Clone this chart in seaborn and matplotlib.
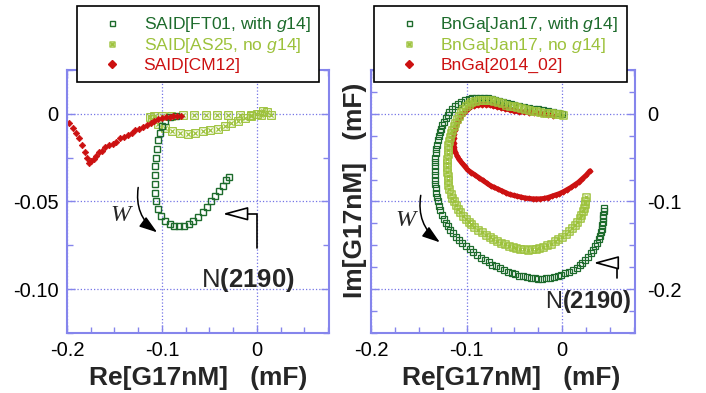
import numpy as np
import pandas as pd
import matplotlib
matplotlib.use("Agg")
import matplotlib.pyplot as plt
from matplotlib.path import Path
from matplotlib.lines import Line2D
from matplotlib.ticker import FixedLocator, MultipleLocator
import seaborn as sns

# ---------------- data ----------------
# Left panel: SAID
ft01_x = [-0.085, -0.092, -0.097, -0.100, -0.102, -0.104, -0.105, -0.106, -0.107, -0.107,
          -0.107, -0.107, -0.106, -0.104, -0.101, -0.097, -0.092, -0.087, -0.082, -0.077,
          -0.072, -0.067, -0.062, -0.057, -0.052, -0.048, -0.044, -0.040, -0.036, -0.032, -0.029]
ft01_y = [-0.001, -0.002, -0.004, -0.007, -0.011, -0.015, -0.020, -0.025, -0.030, -0.035,
          -0.040, -0.045, -0.050, -0.054, -0.058, -0.061, -0.063, -0.064, -0.064, -0.064,
          -0.063, -0.061, -0.059, -0.056, -0.053, -0.050, -0.047, -0.044, -0.041, -0.038, -0.036]

as25_x = [-0.110, -0.104, -0.097, -0.089, -0.081, -0.073, -0.065, -0.057, -0.049, -0.041,
          -0.034, -0.027, -0.020, -0.013, -0.006, 0.000, 0.006, 0.011, 0.015,
          0.004, -0.006, -0.018, -0.030, -0.042, -0.054, -0.066, -0.078, -0.090, -0.100, -0.108, -0.113]
as25_y = [-0.003, -0.006, -0.008, -0.010, -0.011, -0.0115, -0.011, -0.010, -0.0095, -0.0085,
          -0.007, -0.0055, -0.004, -0.0025, -0.001, 0.000, 0.0018, 0.0012, -0.0005,
          -0.0004, -0.0005, -0.0006, -0.0006, -0.0006, -0.0007, -0.0008, -0.0009, -0.001, -0.0012, -0.0015, -0.002]

cm12_x = [-0.198, -0.194, -0.190, -0.187, -0.184, -0.181, -0.179, -0.177, -0.175, -0.172,
          -0.169, -0.166, -0.163, -0.160, -0.156, -0.152, -0.148, -0.144, -0.140, -0.136,
          -0.132, -0.128, -0.124, -0.120, -0.116, -0.112, -0.108, -0.104, -0.100, -0.096,
          -0.092, -0.088, -0.084, -0.080]
cm12_y = [-0.0055, -0.008, -0.011, -0.014, -0.018, -0.022, -0.025, -0.028, -0.027, -0.026,
          -0.024, -0.022, -0.021, -0.019, -0.018, -0.017, -0.016, -0.014, -0.013, -0.012,
          -0.011, -0.0095, -0.0085, -0.0075, -0.0062, -0.005, -0.004, -0.003, -0.0025, -0.002,
          -0.0018, -0.0015, -0.0012, -0.001]

# Right panel: BnGa
jan_g14_x = [0.000, -0.005, -0.010, -0.015, -0.020, -0.025, -0.030, -0.035, -0.040, -0.045,
             -0.050, -0.054, -0.058, -0.062, -0.066, -0.070, -0.074, -0.078, -0.082, -0.086,
             -0.090, -0.094, -0.098, -0.102, -0.106, -0.109, -0.112, -0.115, -0.118, -0.120,
             -0.122, -0.124, -0.1255, -0.127, -0.128, -0.129, -0.130, -0.131, -0.132, -0.1325,
             -0.133, -0.133, -0.1333, -0.1333, -0.1333, -0.133, -0.133, -0.1325, -0.132, -0.131,
             -0.130, -0.129, -0.1275, -0.126, -0.124, -0.122, -0.1195, -0.117, -0.114, -0.111,
             -0.108, -0.105, -0.101, -0.097, -0.093, -0.089, -0.085, -0.081, -0.077, -0.073,
             -0.069, -0.065, -0.061, -0.057, -0.053, -0.049, -0.045, -0.041, -0.037, -0.033,
             -0.029, -0.025, -0.021, -0.017, -0.013, -0.009, -0.005, -0.001, 0.003, 0.007,
             0.011, 0.015, 0.018, 0.021, 0.024, 0.027, 0.030, 0.032, 0.034, 0.036,
             0.038, 0.0395, 0.0405, 0.0415, 0.042, 0.0425, 0.043, 0.043, 0.0433, 0.0435]
jan_g14_y = [0.000, 0.001, 0.002, 0.003, 0.004, 0.005, 0.006, 0.007, 0.008, 0.009,
             0.010, 0.011, 0.012, 0.0135, 0.015, 0.016, 0.017, 0.0178, 0.0183, 0.0185,
             0.0183, 0.018, 0.017, 0.0155, 0.0135, 0.011, 0.0085, 0.0055, 0.002, -0.001,
             -0.005, -0.009, -0.013, -0.017, -0.021, -0.025, -0.030, -0.035, -0.040, -0.045,
             -0.050, -0.055, -0.060, -0.065, -0.070, -0.075, -0.080, -0.085, -0.090, -0.095,
             -0.100, -0.105, -0.110, -0.115, -0.120, -0.124, -0.128, -0.132, -0.136, -0.140,
             -0.1435, -0.147, -0.151, -0.154, -0.158, -0.161, -0.164, -0.167, -0.1695, -0.172,
             -0.174, -0.176, -0.178, -0.180, -0.1815, -0.183, -0.1845, -0.1855, -0.1865, -0.1872,
             -0.1878, -0.188, -0.188, -0.1875, -0.187, -0.186, -0.185, -0.1835, -0.182, -0.180,
             -0.178, -0.1755, -0.173, -0.170, -0.1665, -0.163, -0.159, -0.155, -0.151, -0.147,
             -0.143, -0.139, -0.135, -0.131, -0.127, -0.123, -0.119, -0.115, -0.111, -0.107]

jan_no_x = [0.001, -0.003, -0.007, -0.011, -0.015, -0.019, -0.023, -0.027, -0.031, -0.035,
            -0.039, -0.043, -0.047, -0.051, -0.055, -0.059, -0.063, -0.067, -0.071, -0.075,
            -0.079, -0.083, -0.087, -0.091, -0.095, -0.098, -0.101, -0.104, -0.106, -0.108,
            -0.110, -0.112, -0.1135, -0.115, -0.116, -0.117, -0.118, -0.119, -0.1195, -0.120,
            -0.1205, -0.1205, -0.1205, -0.1205, -0.120, -0.1195, -0.119, -0.118, -0.1165, -0.115,
            -0.113, -0.111, -0.109, -0.1065, -0.104, -0.101, -0.098, -0.095, -0.092, -0.088,
            -0.084, -0.080, -0.076, -0.072, -0.068, -0.064, -0.060, -0.056, -0.052, -0.048,
            -0.044, -0.040, -0.036, -0.032, -0.028, -0.024, -0.020, -0.016, -0.012, -0.008,
            -0.004, 0.000, 0.004, 0.007, 0.010, 0.013, 0.0155, 0.018, 0.020, 0.0215,
            0.0225, 0.0235, 0.024, 0.0245]
jan_no_y = [-0.001, -0.0005, 0.000, 0.0005, 0.001, 0.0015, 0.002, 0.0028, 0.0037, 0.0045,
            0.0055, 0.0065, 0.0075, 0.0085, 0.0095, 0.0105, 0.012, 0.0133, 0.0145, 0.0153,
            0.016, 0.0162, 0.016, 0.015, 0.0133, 0.011, 0.0085, 0.0055, 0.002, -0.002,
            -0.006, -0.010, -0.014, -0.018, -0.022, -0.026, -0.031, -0.036, -0.041, -0.046,
            -0.051, -0.056, -0.061, -0.066, -0.071, -0.076, -0.081, -0.086, -0.091, -0.096,
            -0.100, -0.104, -0.108, -0.112, -0.116, -0.1195, -0.123, -0.126, -0.129, -0.132,
            -0.135, -0.138, -0.1405, -0.143, -0.145, -0.147, -0.149, -0.1505, -0.152, -0.153,
            -0.154, -0.1545, -0.1548, -0.1545, -0.154, -0.153, -0.1515, -0.150, -0.148, -0.1455,
            -0.143, -0.140, -0.137, -0.134, -0.1305, -0.127, -0.123, -0.119, -0.115, -0.111,
            -0.107, -0.103, -0.099, -0.095]

b2014_x = [-0.010, -0.015, -0.020, -0.025, -0.030, -0.035, -0.040, -0.045, -0.050, -0.055,
           -0.060, -0.064, -0.068, -0.072, -0.076, -0.080, -0.084, -0.088, -0.092, -0.096,
           -0.099, -0.102, -0.105, -0.107, -0.109, -0.111, -0.112, -0.113, -0.1135, -0.1135,
           -0.113, -0.112, -0.110, -0.108, -0.105, -0.102, -0.099, -0.095, -0.091, -0.087,
           -0.083, -0.079, -0.075, -0.071, -0.067, -0.063, -0.059, -0.055, -0.051, -0.047,
           -0.043, -0.039, -0.035, -0.031, -0.027, -0.023, -0.019, -0.015, -0.011, -0.007,
           -0.003, 0.001, 0.005, 0.009, 0.013, 0.017, 0.021, 0.025, 0.029]
b2014_y = [-0.002, -0.001, 0.000, 0.0005, 0.001, 0.0015, 0.002, 0.0025, 0.003, 0.0045,
           0.006, 0.007, 0.008, 0.009, 0.010, 0.0105, 0.0105, 0.010, 0.009, 0.0075,
           0.005, 0.0025, -0.001, -0.005, -0.009, -0.013, -0.018, -0.023, -0.028, -0.033,
           -0.038, -0.043, -0.048, -0.052, -0.056, -0.060, -0.064, -0.067, -0.070, -0.073,
           -0.076, -0.079, -0.082, -0.084, -0.086, -0.088, -0.090, -0.092, -0.093, -0.094,
           -0.095, -0.096, -0.0965, -0.097, -0.097, -0.097, -0.0965, -0.0955, -0.094, -0.0925,
           -0.091, -0.089, -0.0865, -0.084, -0.081, -0.078, -0.074, -0.070, -0.065]

left_labels = ["SAID[FT01, with $\\mathit{g14}$]", "SAID[AS25, no $\\mathit{g14}$]", "SAID[CM12]"]
right_labels = ["BnGa[Jan17, with $\\mathit{g14}$]", "BnGa[Jan17, no $\\mathit{g14}$]", "BnGa[2014_02]"]

xticks = [-0.2, -0.1, 0.0]
xticklabels = ["-0.2", "-0.1", "0"]
left_yticks = [-0.10, -0.05, 0.0]
left_yticklabels = ["-0.10", "-0.05", "0"]
right_yticks = [-0.2, -0.1, 0.0]
right_yticklabels = ["-0.2", "-0.1", "0"]

# ---------------- style ----------------
DARK = "#1d6b2c"
LIGHT = "#9dc23c"
RED = "#cc1111"
SPINE = "#8585ec"
GRID = "#7474e6"

sns.set_theme(style="white")
plt.rcParams["font.family"] = ["Liberation Sans", "DejaVu Sans"]
plt.rcParams["mathtext.fontset"] = "custom"
plt.rcParams["mathtext.rm"] = "Liberation Sans"
plt.rcParams["mathtext.it"] = "Liberation Sans:italic"
plt.rcParams["mathtext.bf"] = "Liberation Sans:bold"

# square with an x inside
boxx = Path([(-1, -1), (1, -1), (1, 1), (-1, 1), (-1, -1),
             (-0.55, -0.55), (0.55, 0.55), (-0.55, 0.55), (0.55, -0.55)],
            [Path.MOVETO, Path.LINETO, Path.LINETO, Path.LINETO, Path.CLOSEPOLY,
             Path.MOVETO, Path.LINETO, Path.MOVETO, Path.LINETO])

fig = plt.figure(figsize=(7.06, 3.93), dpi=100)
axL = fig.add_axes([67 / 706, 1 - 333 / 393, 262 / 706, 263 / 393])
axR = fig.add_axes([371 / 706, 1 - 333 / 393, 264 / 706, 263 / 393])


def draw(ax, x, y, **kw):
    df = pd.DataFrame({"x": x, "y": y})
    sns.lineplot(data=df, x="x", y="y", ax=ax, sort=False, estimator=None, legend=False, **kw)


# Left panel
draw(axL, as25_x, as25_y, linestyle="", marker=boxx, markersize=5.5, markerfacecolor="none",
     markeredgecolor=LIGHT, markeredgewidth=0.9)
draw(axL, ft01_x, ft01_y, linestyle="", marker="s", markersize=5.0, markerfacecolor="none",
     markeredgecolor=DARK, markeredgewidth=1.0)
draw(axL, cm12_x, cm12_y, linestyle="", marker="D", markersize=3.3, markerfacecolor=RED,
     markeredgecolor=RED, markeredgewidth=0.5)

# Right panel
draw(axR, jan_g14_x, jan_g14_y, linestyle="", marker="s", markersize=4.0, markerfacecolor="none",
     markeredgecolor=DARK, markeredgewidth=0.9)
draw(axR, b2014_x, b2014_y, color=RED, linewidth=3.6, marker="D", markersize=2.6,
     markerfacecolor=RED, markeredgecolor=RED)
draw(axR, jan_no_x, jan_no_y, linestyle="", marker=boxx, markersize=5.2, markerfacecolor="none",
     markeredgecolor=LIGHT, markeredgewidth=1.0)


def style(ax, ylim, yticks, yticklabels, side):
    ax.set_xlim(-0.2, 0.076)
    ax.set_ylim(*ylim)
    ax.xaxis.set_major_locator(FixedLocator(xticks))
    ax.set_xticklabels(xticklabels)
    ax.xaxis.set_minor_locator(MultipleLocator(0.025))
    ax.yaxis.set_major_locator(FixedLocator(yticks))
    ax.set_yticklabels(yticklabels)
    ax.yaxis.set_minor_locator(MultipleLocator(0.025))
    for sp in ax.spines.values():
        sp.set_color(SPINE)
        sp.set_linewidth(1.5)
    ax.tick_params(which="both", direction="in", top=True, bottom=True, left=True, right=True,
                   color=SPINE, labelsize=14.5, labelcolor="black")
    ax.tick_params(which="major", length=6, width=1)
    ax.tick_params(which="minor", length=4, width=1)
    ax.tick_params(axis="x", pad=6)
    if side == "left":
        ax.tick_params(axis="y", labelleft=True, labelright=False, pad=6)
    else:
        ax.tick_params(axis="y", labelleft=False, labelright=True, pad=9)
    ax.grid(True, which="major", linestyle=":", color=GRID, linewidth=0.9)
    ax.set_xlabel("")
    ax.set_ylabel("")


style(axL, (-0.125, 0.025), left_yticks, left_yticklabels, "left")
style(axR, (-0.25, 0.05), right_yticks, right_yticklabels, "right")


# Legends
def handles():
    return [Line2D([], [], ls="", marker="s", markersize=3.6, markerfacecolor="none",
                   markeredgecolor=DARK, markeredgewidth=1.0),
            Line2D([], [], ls="", marker=boxx, markersize=3.6, markerfacecolor="none",
                   markeredgecolor=LIGHT, markeredgewidth=1.0),
            Line2D([], [], ls="", marker="D", markersize=3.6, markerfacecolor=RED,
                   markeredgecolor=RED)]


for ax, labels, x0 in [(axL, left_labels, 77), (axR, right_labels, 374)]:
    leg = ax.legend(handles(), labels, loc="upper left", bbox_to_anchor=(x0 / 706, 1 - 6 / 393),
                    bbox_transform=fig.transFigure, fontsize=12.6, frameon=True, fancybox=False,
                    framealpha=1, facecolor="white", edgecolor="black", borderpad=0.5,
                    handlelength=3.0, handletextpad=0.3, labelspacing=0.15, borderaxespad=0)
    leg.get_frame().set_linewidth(1.2)
    leg.set_zorder(10)
    for t, c in zip(leg.get_texts(), [DARK, LIGHT, RED]):
        t.set_color(c)

# Axis labels
fig.text(198 / 706, 1 - 378 / 393, "Re[G17nM]   (mF)", ha="center", va="center",
         fontsize=19, fontweight="bold")
fig.text(511 / 706, 1 - 378 / 393, "Re[G17nM]   (mF)", ha="center", va="center",
         fontsize=19, fontweight="bold")
fig.text(355 / 706, 1 - 190 / 393, "Im[G17nM]   (mF)", ha="center", va="center",
         rotation=90, fontsize=19, fontweight="bold")

# Annotations: W arrows
axL.text(-0.144, -0.058, "W", fontsize=17.5, style="italic", family="Liberation Serif",
         ha="center", va="center")
axL.annotate("", xy=(-0.105, -0.0676), xytext=(-0.125, -0.042),
             arrowprops=dict(arrowstyle="-|>,head_length=0.9,head_width=0.3", lw=1.1, color="black",
                             connectionstyle="arc3,rad=0.3", shrinkA=0, shrinkB=0))
axR.text(-0.164, -0.1216, "W", fontsize=17.5, style="italic", family="Liberation Serif",
         ha="center", va="center")
axR.annotate("", xy=(-0.128, -0.1466), xytext=(-0.148, -0.093),
             arrowprops=dict(arrowstyle="-|>,head_length=0.9,head_width=0.3", lw=1.1, color="black",
                             connectionstyle="arc3,rad=0.3", shrinkA=0, shrinkB=0))

# N(2190) arrows and labels
axL.annotate("", xy=(-0.036, -0.057), xytext=(0.0, -0.0767),
             arrowprops=dict(arrowstyle="-|>,head_length=1.3,head_width=0.35", lw=1.2,
                             ec="black", fc="white",
                             connectionstyle="angle,angleA=90,angleB=0,rad=0",
                             shrinkA=0, shrinkB=0))
axL.text(-0.0095, -0.0989, "N$\\mathbf{(2190)}$", fontsize=18.5, ha="center", va="baseline")

axR.annotate("", xy=(0.0325, -0.170), xytext=(0.0576, -0.1875),
             arrowprops=dict(arrowstyle="-|>,head_length=1.3,head_width=0.35", lw=1.2,
                             ec="black", fc="white",
                             connectionstyle="angle,angleA=90,angleB=0,rad=0",
                             shrinkA=0, shrinkB=0))
axR.text(0.0272, -0.2216, "N$\\mathbf{(2190)}$", fontsize=17, ha="center", va="baseline")

fig.savefig("out.png", dpi=100)
